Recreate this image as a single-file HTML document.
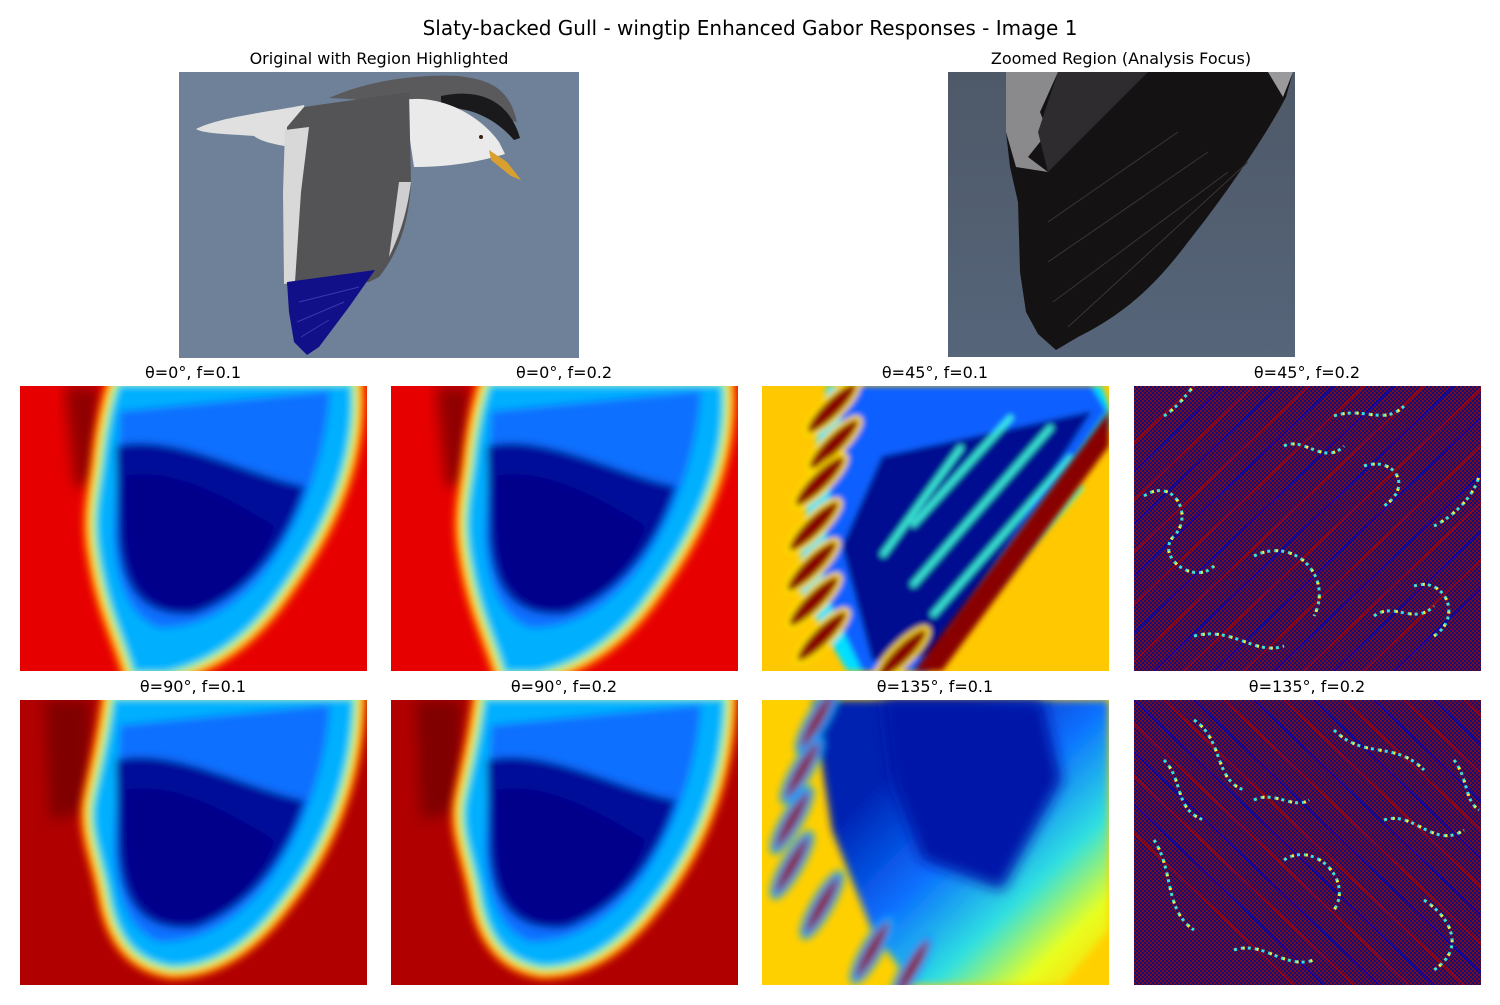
<!DOCTYPE html>
<html><head><meta charset="utf-8"><style>
body{margin:0;background:#fff;width:1500px;height:1000px;overflow:hidden;font-family:"Liberation Sans","DejaVu Sans",sans-serif}
svg text{font-family:"DejaVu Sans","Liberation Sans",sans-serif;fill:#000}
</style></head><body>
<svg id="fig" width="1500" height="1000" viewBox="0 0 1500 1000" xmlns="http://www.w3.org/2000/svg">
<defs>
<filter id="b6" x="-20%" y="-20%" width="140%" height="140%"><feGaussianBlur stdDeviation="7"/></filter>
<filter id="b4" x="-20%" y="-20%" width="140%" height="140%"><feGaussianBlur stdDeviation="4"/></filter>
<filter id="b3"><feGaussianBlur stdDeviation="3"/></filter>
<pattern id="chk" width="4" height="4" patternUnits="userSpaceOnUse"><rect width="4" height="4" fill="#7a0a20"/><rect width="2" height="2" fill="#10107a"/><rect x="2" y="2" width="2" height="2" fill="#10107a"/></pattern>
<linearGradient id="g135" x1="0" y1="0" x2="1" y2="1"><stop offset="0.25" stop-color="#0020b0"/><stop offset="0.5" stop-color="#0a70ff"/><stop offset="0.7" stop-color="#30e0e0"/><stop offset="0.85" stop-color="#e8ff20"/><stop offset="1" stop-color="#ffd000"/></linearGradient>
<linearGradient id="skyR" x1="0" y1="0" x2="0" y2="1"><stop offset="0" stop-color="#4e5968"/><stop offset="1" stop-color="#56657a"/></linearGradient>
<clipPath id="cp"><rect width="347" height="285"/></clipPath>
<clipPath id="cpt"><rect width="400" height="286"/></clipPath>
</defs>
<text x="750" y="35" text-anchor="middle" font-size="20">Slaty-backed Gull - wingtip Enhanced Gabor Responses - Image 1</text>

<text x="379" y="64" text-anchor="middle" font-size="16">Original with Region Highlighted</text>
<g transform="translate(179,72)" clip-path="url(#cpt)">
<rect width="400" height="286" fill="#6e8198"/>
<path d="M150 26 C190 8 240 2 280 4 C310 8 330 15 338 50 L300 40 L230 30 Z" fill="#5a5a5c"/>
<path d="M262 24 C300 16 330 28 341 66 L335 68 C315 45 290 35 262 35 Z" fill="#1a1a1c"/>
<path d="M17 57 C40 45 90 40 125 33 L135 78 C110 75 85 72 75 64 C50 62 25 62 17 57 Z" fill="#e0e0e0"/>
<path d="M225 28 C260 22 300 42 320 70 L326 82 C300 90 270 95 235 95 Z" fill="#eaeaea"/>
<path d="M310 78 L328 90 L342 108 L332 104 L312 88 Z" fill="#d9a030"/>
<circle cx="302" cy="65" r="2" fill="#3a2010"/>
<path d="M125 35 L230 20 L232 110 C230 150 220 180 200 205 L190 210 L108 214 L106 120 L108 55 Z" fill="#545456"/>
<path d="M106 58 L130 55 L122 120 L116 210 L105 212 L104 120 Z" fill="#d8d8d8"/>
<path d="M220 110 L232 110 C228 140 222 160 210 185 Z" fill="#cfcfcf"/>
<path d="M108 210 L196 198 L170 235 L140 275 L128 283 L115 270 L110 240 Z" fill="#121088"/>
<path d="M120 230 L180 215 M118 250 L165 230 M122 265 L150 248" stroke="#3a38b0" stroke-width="1"/>
</g>

<text x="1121" y="64" text-anchor="middle" font-size="16">Zoomed Region (Analysis Focus)</text>
<g transform="translate(948,72)" clip-path="url(#cp)">
<rect width="347" height="286" fill="url(#skyR)"/>
<path d="M60 0 L345 0 L338 25 C320 60 280 120 240 170 C210 210 180 240 130 265 L108 278 L90 262 L78 240 L72 200 L70 130 L62 95 L58 60 Z" fill="#151213"/>
<path d="M58 0 L110 0 L92 40 L100 60 L80 85 L100 100 L68 95 L58 60 Z" fill="#8a8a8c"/>
<path d="M110 0 L200 0 L150 50 L120 80 L100 100 L90 60 Z" fill="#2e2c2e"/>
<path d="M320 0 L345 0 L335 25 Z" fill="#9a9a9c"/>
<path d="M100 150 L230 60 M100 190 L260 80 M105 230 L280 100 M120 255 L300 90" stroke="#3a3638" stroke-width="1"/>
</g>

<g id="panels"></g>
</svg>
<script>
var titles=["θ=0°, f=0.1","θ=0°, f=0.2","θ=45°, f=0.1","θ=45°, f=0.2","θ=90°, f=0.1","θ=90°, f=0.2","θ=135°, f=0.1","θ=135°, f=0.2"];
var colX=[20,391,762,1134];
var rowY=[386,700];
var NS="http://www.w3.org/2000/svg";
var root=document.getElementById('panels');
function mk(tag,attrs,parent){var e=document.createElementNS(NS,tag);for(var k in attrs)e.setAttribute(k,attrs[k]);parent.appendChild(e);return e;}
var blob0="M100 0 L330 0 C335 70 305 140 258 205 C228 248 190 275 145 285 L115 285 C105 250 88 220 80 165 C74 125 82 105 86 65 C90 35 95 15 100 0 Z";
var blob90="M95 0 L332 0 C330 80 300 150 258 202 C225 245 190 265 152 265 C118 260 100 238 92 200 C85 160 70 130 76 100 C82 70 90 40 95 0 Z";
function blobPanel(g,bg,dark,path,dark2){
  mk('rect',{width:347,height:285,fill:bg},g);
  mk('path',{d:dark,fill:dark2,filter:'url(#b6)'},g);
  var b=mk('g',{filter:'url(#b4)'},g);
  mk('path',{d:path,fill:'#ff8000',stroke:'#ff6000','stroke-width':30},b);
  mk('path',{d:path,fill:'#ffe000',stroke:'#ffe000','stroke-width':20},b);
  mk('path',{d:path,fill:'#40ffc0',stroke:'#60ffa0','stroke-width':10},b);
  mk('path',{d:path,fill:'#00b0ff',stroke:'#00b0ff','stroke-width':2},b);
  mk('path',{d:"M100 25 L310 5 C305 80 275 150 240 192 C208 228 175 242 140 242 C110 232 96 200 94 150 Z",fill:'#0a70ff'},b);
  mk('path',{d:"M96 60 C150 45 230 90 285 100 C265 165 225 210 175 228 C128 232 102 210 98 150 Z",fill:'#000a9a'},b);
  mk('path',{d:"M105 90 C160 80 220 120 255 140 C235 190 200 218 160 222 C125 218 108 190 106 140 Z",fill:'#00008a'},b);
}
function g01(g){
  mk('rect',{width:347,height:285,fill:'#ffc800'},g);
  var b=mk('g',{filter:'url(#b3)'},g);
  mk('path',{d:"M65 0 L340 0 L347 20 L347 40 L160 285 L85 285 L35 200 L50 80 Z",fill:'#00e0ff'},b);
  mk('path',{d:"M85 0 L330 0 L345 25 L165 285 L100 285 L60 200 L70 80 Z",fill:'#0a60ff'},b);
  mk('path',{d:"M120 70 L330 25 L175 270 L110 275 L80 160 Z",fill:'#000a90'},b);
  var st=[[150,200,290,40],[170,230,310,70],[190,250,320,100],[150,140,250,30],[120,170,200,60]];
  st.forEach(function(s){mk('line',{x1:s[0],y1:s[1],x2:s[2],y2:s[3],stroke:'#40ffe0','stroke-width':5},b);});
  mk('path',{d:"M347 25 L347 60 L180 285 L152 285 Z",fill:'#880000',filter:'url(#b3)'},g);
  var el=[[70,22],[72,58],[58,95],[52,140],[50,180],[52,215],[60,250],[140,268]];
  el.forEach(function(c){mk('ellipse',{cx:c[0],cy:c[1],rx:36,ry:10,fill:'#880000',stroke:'#ffe000','stroke-width':4,transform:'rotate(-45 '+c[0]+' '+c[1]+')'},b);});
}
function g21(g){
  mk('rect',{width:347,height:285,fill:'#ffd000'},g);
  var b=mk('g',{filter:'url(#b4)'},g);
  mk('path',{d:"M50 0 L347 0 L347 230 L300 285 L150 285 L110 230 L70 130 Z",fill:'url(#g135)'},b);
  mk('path',{d:"M120 0 L280 0 L300 80 L240 190 L160 160 L130 80 Z",fill:'#0018a8',filter:'url(#b6)'},g);
  var el=[[55,20],[40,70],[30,120],[30,165],[60,205],[110,250],[150,268]];
  el.forEach(function(c){mk('ellipse',{cx:c[0],cy:c[1],rx:36,ry:8,fill:'#880000',stroke:'#00a0ff','stroke-width':5,transform:'rotate(-60 '+c[0]+' '+c[1]+')'},b);});
}
var lineOffs=[10,40,70,95,125,150,180,210,240,270,300,330,360,390,420,450,480,510];
function noisePanel(g,dir){
  mk('rect',{width:347,height:285,fill:'url(#chk)'},g);
  lineOffs.forEach(function(o,i){
    var col=i%2?'#0000c0':'#b00000';
    if(dir>0) mk('line',{x1:o-250,y1:285,x2:o+50,y2:0,stroke:col,'stroke-width':1.6,opacity:0.8},g);
    else mk('line',{x1:o-150,y1:0,x2:o+150,y2:285,stroke:col,'stroke-width':1.6,opacity:0.8},g);
  });
  var curves=dir>0?["M10 110 C40 90 60 130 40 150 C20 170 60 200 80 180","M120 170 C160 150 200 190 180 230","M230 80 C260 70 280 100 250 120","M280 200 C310 190 330 230 300 250","M60 250 C100 240 120 270 150 260","M200 30 C230 20 250 40 270 20","M300 140 C320 130 340 110 345 90","M150 60 C170 50 190 80 210 60","M30 30 C45 20 55 5 60 0","M240 230 C260 215 280 240 300 220"]:["M60 20 C90 40 80 80 110 90","M200 30 C230 60 260 40 290 70","M20 140 C40 170 30 210 60 230","M150 160 C180 140 220 180 200 210","M250 120 C280 110 300 150 330 130","M290 200 C320 220 330 250 300 270","M100 250 C130 240 150 270 180 260","M30 60 C50 80 40 110 70 120","M120 100 C140 90 160 110 175 100","M320 60 C335 80 330 100 345 110"];
  curves.forEach(function(d){mk('path',{d:d,fill:'none',stroke:'#40e0d0','stroke-width':3,'stroke-dasharray':'3 4'},g);
    mk('path',{d:d,fill:'none',stroke:'#f0f040','stroke-width':3,'stroke-dasharray':'2 12','stroke-dashoffset':5},g);});
}
for(var i=0;i<8;i++){
  var r=Math.floor(i/4),c=i%4;
  var t=mk('text',{x:colX[c]+173,y:rowY[r]-8,'text-anchor':'middle','font-size':16},root);
  
  
  t.textContent=titles[i];
  var g=mk('g',{transform:'translate('+colX[c]+','+rowY[r]+')','clip-path':'url(#cp)'},root);
  
  
  if(i==0||i==1) blobPanel(g,'#e60000',"M45 0 L80 0 L82 100 L55 100 Z",blob0,'#900000');
  else if(i==4||i==5) blobPanel(g,'#b00000',"M25 0 L70 0 L72 110 L30 120 Z",blob90,'#800000');
  else if(i==2) g01(g);
  else if(i==6) g21(g);
  else noisePanel(g,i==3?1:-1);
}
</script>
</body></html>
